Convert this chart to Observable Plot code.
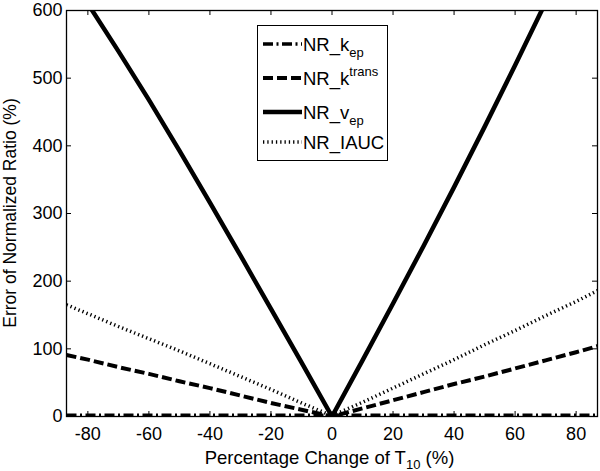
<!DOCTYPE html>
<html>
<head>
<meta charset="utf-8">
<script src="https://cdn.jsdelivr.net/npm/d3@7"></script>
<script src="https://cdn.jsdelivr.net/npm/@observablehq/plot@0.6"></script>
<style>
  html, body { margin: 0; padding: 0; background: #fff; }
  svg { display: block; }
</style>
</head>
<body>
<div id="chart"></div>
<script>
// ---- data ----
const pct = [-87, -80, -70, -60, -50, -40, -30, -20, -10, 0, 10, 20, 30, 40, 50, 60, 70, 80, 87];
const nrKep    = [0, 0, 0, 0, 0, 0, 0, 0, 0, 0, 0, 0, 0, 0, 0, 0, 0, 0, 0];
const nrKtrans = [91, 84, 73, 63, 52, 42, 31, 20, 10, 0, 12, 24, 36, 48, 59, 71, 83, 95, 104];
const nrVep    = [658, 610, 540, 468, 393, 316, 238, 159, 80, 0, 83, 167, 252, 339, 428, 519, 612, 707, 775];
const nrIAUC   = [165, 152, 133, 115, 97, 78, 59, 40, 20, 1, 21, 42, 63, 84, 106, 127, 149, 170, 186];

const seriesNames = ["NR_kep", "NR_ktrans", "NR_vep", "NR_IAUC"];
const xTicks = [-80, -60, -40, -20, 0, 20, 40, 60, 80];
const yTicks = [0, 100, 200, 300, 400, 500, 600];

const series = [nrKep, nrKtrans, nrVep, nrIAUC];
const rows = [];
series.forEach((vals, s) => vals.forEach((v, i) => rows.push({series: seriesNames[s], x: pct[i], y: v})));

const styles = {
  NR_kep:    {strokeWidth: 3.5, plotWidth: 6, strokeDasharray: "10,3.5,2,3.5"},
  NR_ktrans: {strokeWidth: 4,   plotWidth: 4, strokeDasharray: "10,4"},
  NR_vep:    {strokeWidth: 4.5, plotWidth: 4.5, strokeDasharray: null},
  NR_IAUC:   {strokeWidth: 3.5, plotWidth: 3.5, strokeDasharray: "1.3,3"}
};

const W = 600, H = 471, mL = 66, mR = 3, mT = 10, mB = 55;
const fw = W - mL - mR, fh = H - mT - mB, tick = 5;
const font = "'Liberation Sans', Arial, Helvetica, sans-serif";

const lineMarks = seriesNames.map(name =>
  Plot.line(rows.filter(d => d.series === name), {
    x: "x", y: "y", stroke: "black", clip: true,
    strokeWidth: styles[name].plotWidth,
    strokeDasharray: styles[name].strokeDasharray,
    strokeLinecap: "butt", strokeLinejoin: "round"
  })
);

const plot = Plot.plot({
  width: W, height: H,
  marginLeft: mL, marginRight: mR, marginTop: mT, marginBottom: mB,
  style: {fontFamily: font, fontSize: "18px", color: "black", background: "white"},
  x: {domain: [-87, 87]},
  y: {domain: [0, 600]},
  marks: [
    ...lineMarks,
    Plot.frame({stroke: "black", strokeWidth: 1.3}),
    Plot.ruleX(xTicks, {x: d => d, insetTop: fh - tick, stroke: "black"}),
    Plot.ruleX(xTicks, {x: d => d, insetBottom: fh - tick, stroke: "black"}),
    Plot.ruleY(yTicks, {y: d => d, insetRight: fw - tick, stroke: "black"}),
    Plot.ruleY(yTicks, {y: d => d, insetLeft: fw - tick, stroke: "black"}),
    Plot.axisX(xTicks, {tickSize: 0, tickPadding: 11, label: null, fontSize: 18}),
    Plot.axisY(yTicks, {tickSize: 0, tickPadding: 4, label: null, fontSize: 18})
  ]
});

document.getElementById("chart").appendChild(plot);
const svg = d3.select(plot);

// minus sign as hyphen like the reference
svg.selectAll("text").each(function() {
  const t = d3.select(this);
  if (t.text().includes("−")) t.text(t.text().replace("−", "-"));
});

// y-axis title
svg.append("text")
  .attr("transform", `translate(16,${mT + fh / 2}) rotate(-90)`)
  .attr("text-anchor", "middle")
  .attr("font-family", font).attr("font-size", 17.5)
  .text("Error of Normalized Ratio (%)");

// x-axis title with subscript
const xt = svg.append("text")
  .attr("x", mL + fw / 2 - 2).attr("y", 464)
  .attr("text-anchor", "middle")
  .attr("font-family", font).attr("font-size", 18.5);
xt.append("tspan").text("Percentage Change of T");
xt.append("tspan").attr("font-size", 13).attr("dy", 5).text("10");
xt.append("tspan").attr("dy", -5).text(" (%)");

// legend
const lg = svg.append("g").attr("font-family", font).attr("font-size", 18.5).attr("text-anchor", "start");
lg.append("rect").attr("x", 257.5).attr("y", 25.5).attr("width", 130).attr("height", 135)
  .attr("fill", "white").attr("stroke", "black").attr("stroke-width", 1);
const legendRows = [
  {name: "NR_kep",    y: 44,  main: "NR_k", sub: "ep"},
  {name: "NR_ktrans", y: 78,  main: "NR_k", sup: "trans"},
  {name: "NR_vep",    y: 112, main: "NR_v", sub: "ep"},
  {name: "NR_IAUC",   y: 142, main: "NR_IAUC"}
];
legendRows.forEach(r => {
  const st = styles[r.name];
  lg.append("line").attr("x1", 263).attr("x2", 302).attr("y1", r.y).attr("y2", r.y)
    .attr("stroke", "black").attr("stroke-width", st.strokeWidth)
    .attr("stroke-dasharray", st.strokeDasharray);
  const t = lg.append("text").attr("x", 303).attr("y", r.y + 6.5).attr("text-anchor", "start");
  t.append("tspan").text(r.main);
  if (r.sub) t.append("tspan").attr("font-size", 13).attr("dy", 6).text(r.sub);
  if (r.sup) t.append("tspan").attr("font-size", 13).attr("dy", -9).text(r.sup);
});
</script>
</body>
</html>
